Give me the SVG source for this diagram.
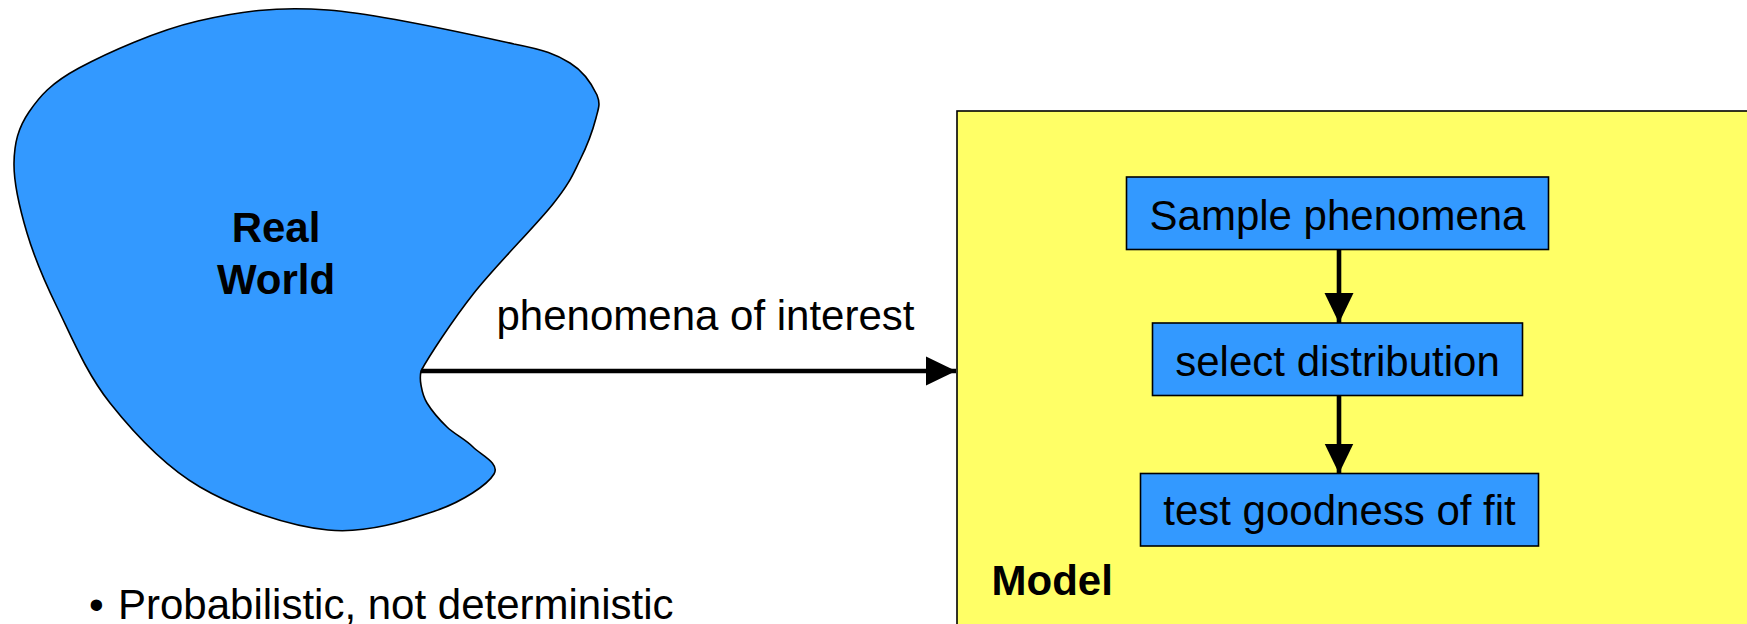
<svg xmlns="http://www.w3.org/2000/svg" width="1747" height="624" viewBox="0 0 1747 624">
<style>
.t{font-family:"Liberation Sans",Arial,sans-serif;font-size:42px;fill:#000}
.b{font-weight:bold}
.box{fill:#3399FF;stroke:#000;stroke-width:1.6}
.conn{stroke:#000;stroke-width:4.6;fill:none}
</style>
<defs>
<marker id="ah" markerUnits="userSpaceOnUse" markerWidth="30" markerHeight="30" viewBox="0 0 29 28" refX="29" refY="14" orient="auto">
<path d="M0,0 L29,14 L0,28 Z" fill="#000"/>
</marker>
</defs>
<rect width="1747" height="624" fill="#fff"/>
<g id="real-world">
<path d="M421,371 C428,358 452,320.83 474,293 C496,265.17 535.33,226.17 553,204 C570.67,181.83 572.83,174.33 580,160 C587.17,145.67 593.17,128.83 596,118 C598.83,107.17 600.5,104 597,95 C592.67,85.83 583.83,71.5 570,63 C556.17,54.5 545,50 514,44 C473.67,35.17 380.67,13.83 328,10 C275.33,6.17 239.5,11.33 198,21 C156.5,30.67 107.17,52.83 79,68 C50.83,83.17 39.83,96.17 29,112 C18.17,127.83 14.33,142.83 14,163 C13.67,183.17 19.83,209 27,233 C34.17,257 43.17,278.67 57,307 C70.83,335.33 86.17,373 110,403 C133.83,433 163.67,465.83 200,487 C236.33,508.17 288.83,526 328,530 C367.17,534 407.33,520.33 435,511 C462.67,501.67 487.67,484.67 494,474 C500.33,463.33 480.83,454.83 473,447 C465.17,439.17 454.67,434.33 447,427 C439.33,419.67 431.33,410 427,403 C422.67,396 422,390.33 421,385 C420,379.67 420,376 421,371 Z" fill="#3399FF" stroke="#000" stroke-width="1.6"/>
<text class="t b" x="276" y="242" text-anchor="middle">Real</text>
<text class="t b" x="276" y="293.5" text-anchor="middle">World</text>
</g>
<g id="model">
<rect x="957" y="111" width="820" height="540" fill="#FFFF66" stroke="#000" stroke-width="1.6"/>
<text class="t b" x="991.5" y="595">Model</text>
</g>
<g id="sample">
<rect class="box" x="1126.5" y="177" width="422" height="72.5"/>
<text class="t" x="1337.5" y="229.5" text-anchor="middle">Sample phenomena</text>
</g>
<g id="select">
<rect class="box" x="1152.5" y="323" width="370" height="72.5"/>
<text class="t" x="1337.5" y="375.5" text-anchor="middle">select distribution</text>
</g>
<g id="test">
<rect class="box" x="1140.5" y="473.5" width="398" height="72.5"/>
<text class="t" x="1339.5" y="525" text-anchor="middle">test goodness of fit</text>
</g>
<g id="connectors">
<line class="conn" x1="421" y1="371" x2="956" y2="371" marker-end="url(#ah)"/>
<line class="conn" x1="1339" y1="249.5" x2="1339" y2="323" marker-end="url(#ah)"/>
<line class="conn" x1="1339" y1="395.5" x2="1339" y2="473.5" marker-end="url(#ah)"/>
</g>
<g id="labels">
<text class="t" x="496.5" y="330">phenomena of interest</text>
<text class="t" y="619"><tspan x="89">•</tspan><tspan x="118">Probabilistic, not deterministic</tspan></text>
</g>
</svg>
